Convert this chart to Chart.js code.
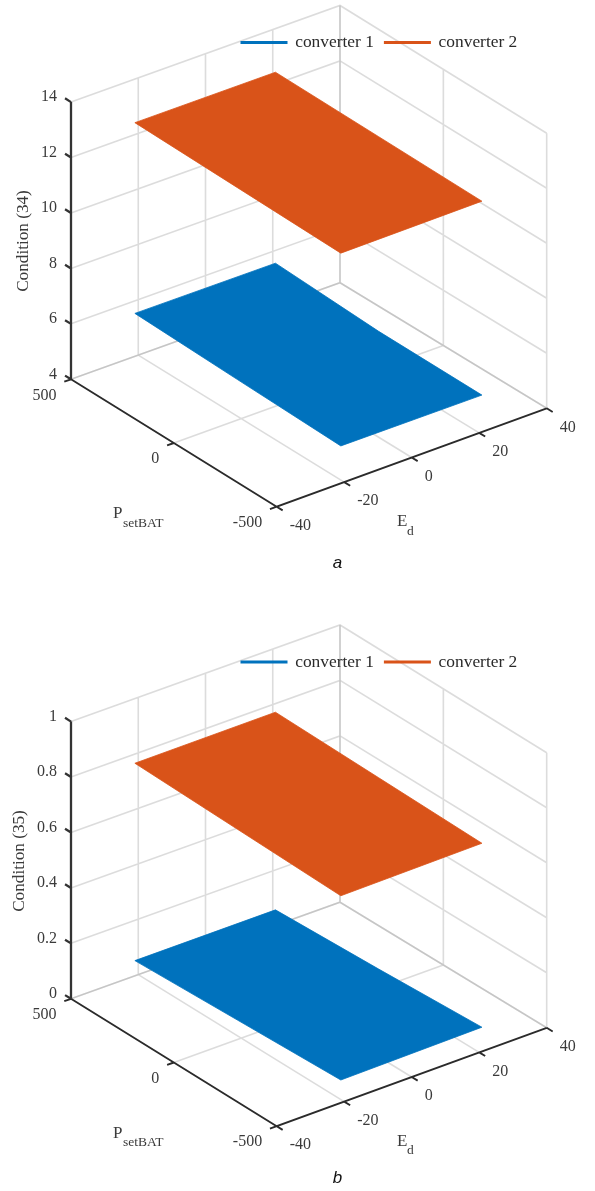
<!DOCTYPE html>
<html>
<head>
<meta charset="utf-8">
<script src="https://cdn.jsdelivr.net/npm/chart.js@4"></script>
<style>
html,body{margin:0;padding:0;background:#fff}
canvas{display:block}
</style>
</head>
<body>
<canvas id="panelA" width="595" height="596"></canvas>
<canvas id="panelB" width="595" height="595"></canvas>
<script>
// ---- data ----
const edTicks = [-40, -20, 0, 20, 40];
const pTicks = [500, 0, -500];
const condition34Ticks = [4, 6, 8, 10, 12, 14];
const condition35Ticks = [0, 0.2, 0.4, 0.6, 0.8, 1];
const surfaceEd = [-21, 20.8];
const surfaceP = [500, 0, -500];
// rows: surfaceEd, columns: surfaceP
const condition34Converter1 = [[5.55, 5.45, 5.36], [5.54, 5.36, 5.34]];
const condition34Converter2 = [[12.43, 12.40, 12.37], [12.43, 12.41, 12.39]];
const condition35Converter1 = [[0.055, 0.069, 0.083], [0.056, 0.070, 0.088]];
const condition35Converter2 = [[0.767, 0.760, 0.753], [0.769, 0.763, 0.757]];
const seriesNames = ['converter 1', 'converter 2'];
const seriesColors = ['#0072BD', '#D95319'];

// ---- 3D view: screen position of the floor corners and height of the box ----
const view = {
  xCorners: { nearBack: 71, nearFront: 276.7, farFront: 546.7, farBack: 340 },
  yCorners: { nearBack: 379.3, nearFront: 506.7, farFront: 408.3, farBack: 282.7 },
  heightBack: 277.2, heightFront: 275
};
function project(ed, p, zFrac, shift) {
  const u = (ed - edTicks[0]) / (edTicks[edTicks.length - 1] - edTicks[0]);
  const v = (pTicks[0] - p) / (pTicks[0] - pTicks[pTicks.length - 1]);
  const bil = c => (1 - u) * (1 - v) * c.nearBack + (1 - u) * v * c.nearFront + u * v * c.farFront + u * (1 - v) * c.farBack;
  const h = view.heightBack + (view.heightFront - view.heightBack) * v;
  return { x: bil(view.xCorners), y: bil(view.yCorners) + shift - zFrac * h };
}
const GAP = { x: null, y: null };
const serif = '"Liberation Serif", "Times New Roman", serif';

function makePanel(cfg) {
  const zMin = cfg.zTicks[0], zMax = cfg.zTicks[cfg.zTicks.length - 1];
  const zf = z => (z - zMin) / (zMax - zMin);
  const P = (ed, p, z) => project(ed, p, zf(z), cfg.shift);
  const edFirst = edTicks[0], edLast = edTicks[edTicks.length - 1];
  const pFirst = pTicks[0], pLast = pTicks[pTicks.length - 1];

  // light grid on walls and floor
  const grid = [];
  cfg.zTicks.forEach(z => {
    grid.push(P(edFirst, pFirst, z), P(edLast, pFirst, z), P(edLast, pLast, z), GAP);
  });
  edTicks.slice(1).forEach(ed => {
    grid.push(P(ed, pFirst, zMin), P(ed, pFirst, zMax), GAP);
    if (ed !== edLast) grid.push(P(ed, pFirst, zMin), P(ed, pLast, zMin), GAP);
  });
  pTicks.slice(1).forEach(p => {
    grid.push(P(edLast, p, zMin), P(edLast, p, zMax), GAP);
  });
  grid.push(P(edFirst, pTicks[1], zMin), P(edLast, pTicks[1], zMin), GAP);
  // back edges, a little darker
  const edges = [P(edFirst, pFirst, zMin), P(edLast, pFirst, zMin), P(edLast, pLast, zMin), GAP,
                 P(edLast, pFirst, zMin), P(edLast, pFirst, zMax)];

  // solid axes with ticks
  const zAxis = [P(edFirst, pFirst, zMin), P(edFirst, pFirst, zMax), GAP];
  cfg.zTicks.forEach(z => zAxis.push(P(edFirst, pFirst, z), P(edFirst, pFirst + 29, z), GAP));
  const floorAxes = [P(edFirst, pFirst, zMin), P(edFirst, pLast, zMin), P(edLast, pLast, zMin), GAP];
  pTicks.forEach(p => floorAxes.push(P(edFirst, p, zMin), P(edFirst - 2, p, zMin), GAP));
  edTicks.forEach(ed => floorAxes.push(P(ed, pLast, zMin), P(ed, pLast - 29, zMin), GAP));

  const outline = m => {
    const pts = [];
    surfaceP.forEach((p, j) => pts.push(P(surfaceEd[0], p, m[0][j])));
    surfaceP.slice().reverse().forEach((p, j) => pts.push(P(surfaceEd[1], p, m[1][surfaceP.length - 1 - j])));
    pts.push(pts[0]);
    return pts;
  };
  const lineDs = (label, data, color, width, order) => ({
    label, data, showLine: true, borderColor: color, backgroundColor: color, borderWidth: width,
    pointRadius: 0, pointHoverRadius: 0, spanGaps: false, tension: 0, order, clip: false,
    borderCapStyle: 'butt', borderJoinStyle: 'miter'
  });
  const surfaceDs = (label, data, color, order) => Object.assign(lineDs(label, data, color, 0.8, order), { fill: 'shape', borderJoinStyle: 'round' });

  const labelsPlugin = {
    id: 'labels3d',
    beforeLayout(chart) {
      const lg = chart.legend;
      lg._layers = () => [{ z: 1, draw(a) { lg.draw(a); } }];
    },
    afterLayout(chart) {
      const lg = chart.legend;
      const h = lg.height, w = 595 - 230.5;
      lg.left = 230.5; lg.right = 230.5 + w; lg.width = w;
      lg.top = 22.9 + cfg.legendShift; lg.bottom = lg.top + Math.max(h, 40); lg.height = lg.bottom - lg.top;
    },
    afterDatasetsDraw(chart) {
      const c = chart.ctx, sx = chart.scales.x, sy = chart.scales.y;
      const put = (txt, x, y, font, align, color) => {
        c.font = font; c.textAlign = align; c.textBaseline = 'middle'; c.fillStyle = color || '#3a3a3a';
        c.fillText(txt, sx.getPixelForValue(x), sy.getPixelForValue(y));
      };
      c.save();
      const tickFont = '16px ' + serif;
      cfg.zTicks.forEach(z => { const q = P(edFirst, pFirst, z); put(String(z), q.x - 14, q.y - 5, tickFont, 'right'); });
      pTicks.forEach(p => { const q = P(edFirst, p, zMin); put(String(p), q.x - 14.5, q.y + 16, tickFont, 'right'); });
      edTicks.forEach(ed => { const q = P(ed, pLast, zMin); put(String(ed), q.x + 13, q.y + 19, tickFont, 'left'); });
      // axis titles
      const o = P(edFirst, pFirst, zMin);
      const dy = o.y - view.yCorners.nearBack;
      put('P', 113, 514 + dy, '17px ' + serif, 'left');
      put('setBAT', 123, 523 + dy, '13.5px ' + serif, 'left');
      put('E', 397, 522 + dy, '17px ' + serif, 'left');
      put('d', 407, 531 + dy, '13.5px ' + serif, 'left');
      put(cfg.caption, 337.5, cfg.captionY, 'italic 17px "Liberation Sans", Arial, sans-serif', 'center', '#111');
      c.translate(sx.getPixelForValue(cfg.titleX), sy.getPixelForValue(cfg.titleY));
      c.rotate(-Math.PI / 2);
      c.font = '17.2px ' + serif; c.textAlign = 'center'; c.textBaseline = 'middle'; c.fillStyle = '#3a3a3a';
      c.fillText(cfg.yTitle, 0, 0);
      c.restore();
    }
  };

  return new Chart(document.getElementById(cfg.canvas), {
    type: 'scatter',
    data: {
      datasets: [
        surfaceDs(seriesNames[0], outline(cfg.conv1), seriesColors[0], 2),
        surfaceDs(seriesNames[1], outline(cfg.conv2), seriesColors[1], 1),
        lineDs('grid', grid, 'rgba(38,38,38,0.16)', 1.6, 4),
        lineDs('edges', edges, 'rgba(38,38,38,0.12)', 1.6, 3),
        lineDs('z axis', zAxis, '#333333', 2.3, 0),
        lineDs('floor axes', floorAxes, '#2b2b2b', 1.9, 0)
      ]
    },
    options: {
      responsive: false,
      animation: false,
      events: [],
      layout: { padding: { top: -39.4 } },
      scales: {
        x: { type: 'linear', display: false, min: 0, max: 595 },
        y: { type: 'linear', display: false, min: 0, max: cfg.height, reverse: true }
      },
      plugins: {
        tooltip: { enabled: false },
        legend: {
          display: true, position: 'top', align: 'start',
          labels: {
            boxWidth: 45, boxHeight: 1, padding: 11,
            font: { family: serif, size: 17.4 }, color: '#2a2a2a',
            generateLabels: () => seriesNames.map((n, i) => ({
              text: n, fillStyle: seriesColors[i], strokeStyle: seriesColors[i], lineWidth: 2, hidden: false, datasetIndex: i, fontColor: '#2a2a2a'
            }))
          }
        }
      }
    },
    plugins: [labelsPlugin]
  });
}

makePanel({
  canvas: 'panelA', height: 596, shift: 0, legendShift: 0, zTicks: condition34Ticks,
  conv1: condition34Converter1, conv2: condition34Converter2,
  yTitle: 'Condition (34)', titleX: 23, titleY: 241, caption: 'a', captionY: 563
});
makePanel({
  canvas: 'panelB', height: 595, shift: 23.5, legendShift: 23.5, zTicks: condition35Ticks,
  conv1: condition35Converter1, conv2: condition35Converter2,
  yTitle: 'Condition (35)', titleX: 19, titleY: 265, caption: 'b', captionY: 582
});
</script>
</body>
</html>
